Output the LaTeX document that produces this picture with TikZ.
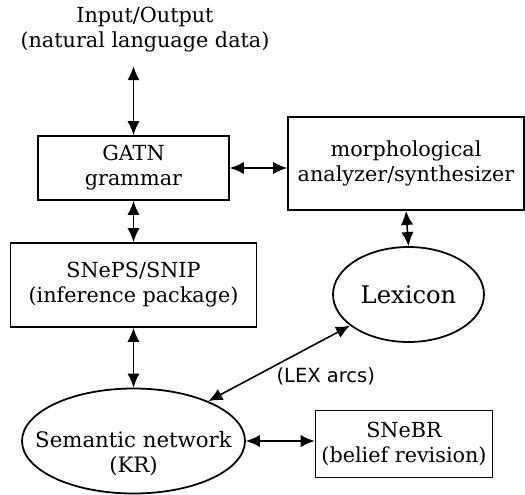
\documentclass[tikz,border=0pt]{standalone}
\usepackage{fontspec}
\setmainfont{DejaVu Serif}
\setsansfont{DejaVu Sans}
\usepackage{tikz}
\usetikzlibrary{shapes.geometric, arrows.meta, positioning, calc}

\begin{document}
\begin{tikzpicture}[
    module/.style={draw, line width=1pt, align=center, font=\fontsize{11.8}{14.2}\selectfont},
    oval/.style={draw, ellipse, line width=1pt, align=center, inner sep=0pt},
    arrow/.style={{Latex[length=8pt,width=7pt]}-{Latex[length=8pt,width=7pt]}, line width=0.9pt}
]
    \useasboundingbox (0, 0) rectangle (10.5, -9.9);

    % Top text
    \node[align=center, font=\fontsize{11.8}{14.2}\selectfont] (io) at (2.9, -0.6) {Input/Output\\(natural language data)};

    % Boxes
    \node[module, minimum width=3.82cm, minimum height=1.28cm] (gatn) at (2.67, -3.36) {GATN\\grammar};
    \node[module, minimum width=4.72cm, minimum height=1.86cm] (morph) at (8.12, -3.27) {morphological\\analyzer/synthesizer};
    \node[module, minimum width=4.92cm, minimum height=1.68cm] (sneps) at (2.67, -5.7) {SNePS/SNIP\\(inference package)};
    \node[module, minimum width=3.44cm, minimum height=1.34cm] (snebr) at (8.08, -8.88) {SNeBR\\(belief revision)};

    % Ellipses
    \node[oval, minimum width=3.02cm, minimum height=1.9cm, font=\fontsize{13.8}{16}\selectfont] (lex) at (8.17, -5.89) {Lexicon};
    \node[oval, minimum width=4.46cm, minimum height=2.1cm] (sem) at (2.67, -8.82) {};
    \node[align=center, font=\fontsize{12.1}{14.2}\selectfont] (semtext) at ($(sem)+(0,-0.26)$) {Semantic network\\(KR)};

    % Arrows
    \draw[arrow] ($(io.south -| gatn.north)+(0,-0.15)$) -- (gatn.north);
    \draw[arrow] (gatn.east) -- (gatn.east -| morph.west);
    \draw[arrow] (morph.south) -- (lex.north);
    \draw[arrow] (gatn.south) -- (sneps.north);
    \draw[arrow] (sneps.south) -- (sem.north);
    \draw[arrow] (sem) -- node[pos=0.47, anchor=north west, inner sep=0.5pt, font=\sffamily\fontsize{11.1}{13}\selectfont] {(LEX arcs)} (lex);
    \draw[arrow] (sem.east) -- (sem.east -| snebr.west);

\end{tikzpicture}
\end{document}
